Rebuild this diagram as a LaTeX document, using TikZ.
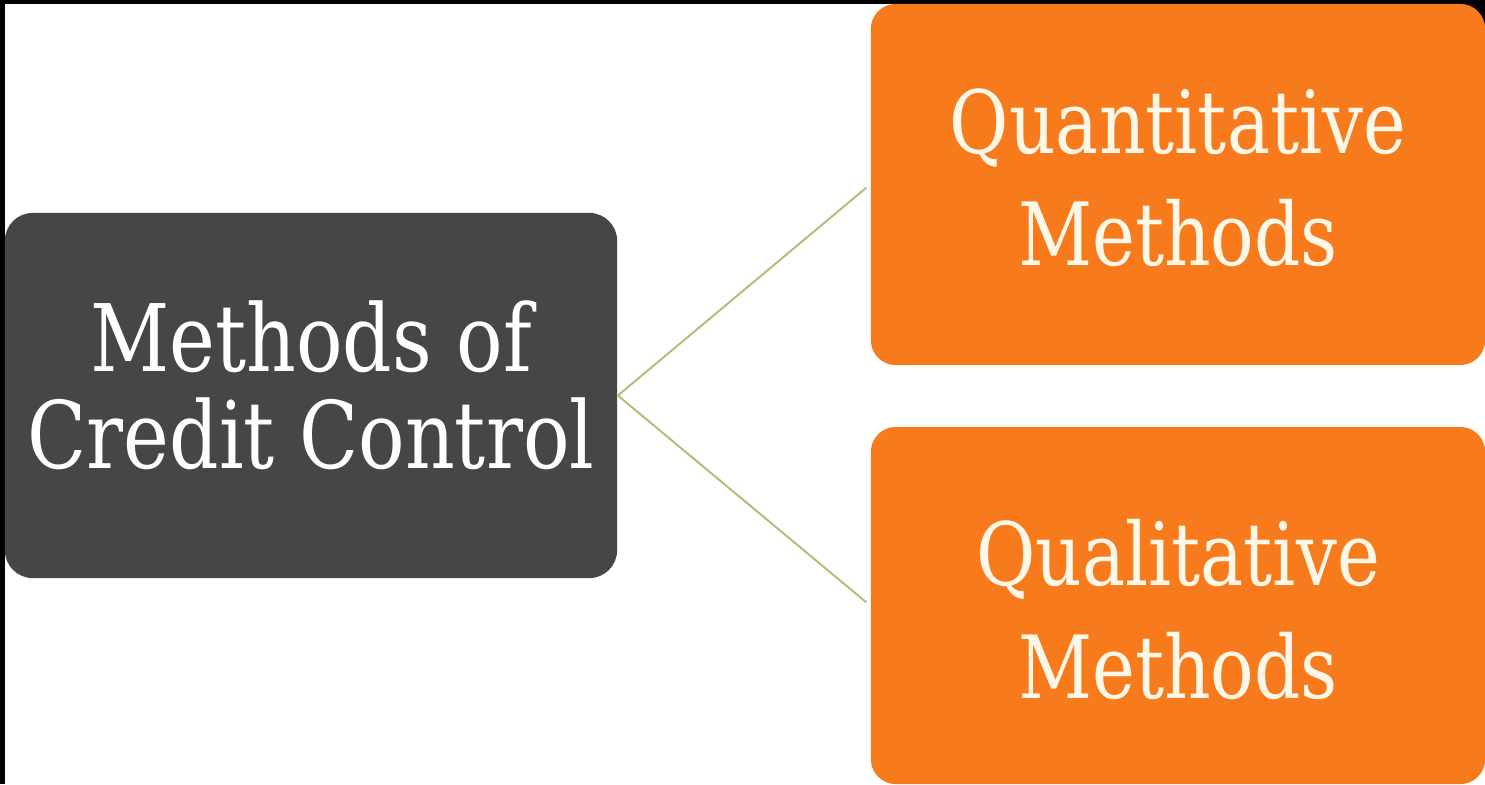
\documentclass[tikz,border=0pt]{standalone}
\usepackage{fontspec}
\newfontfamily\slab[FakeStretch=0.83]{DejaVu Serif}
\definecolor{boxdark}{RGB}{70,70,70}
\definecolor{boxorange}{RGB}{247,123,29}
\definecolor{linkgreen}{RGB}{172,194,122}
\definecolor{cream}{RGB}{255,248,232}
\tikzset{
  rootbox/.style={fill=boxdark, rounded corners=0.28cm, inner sep=0pt,
    minimum width=6.12cm, minimum height=3.65cm},
  leafbox/.style={fill=boxorange, rounded corners=0.25cm, inner sep=0pt,
    minimum width=6.14cm},
  roottext/.style={text=white, align=center, inner sep=0pt,
    font=\slab\fontsize{26.5}{27.6}\selectfont},
  leaftext/.style={text=cream, align=center, inner sep=0pt,
    font=\slab\fontsize{24.8}{31.9}\selectfont},
  link/.style={draw=linkgreen, line width=0.02cm, shorten >=0.05cm}
}
\begin{document}
\begin{tikzpicture}[x=0.01cm, y=-0.01cm]
  \useasboundingbox (0,0) rectangle (1485,784);
  % frame: dark strips on the top and left edges
  \fill[black] (0,0) rectangle (1485,784);
  \fill[white] (5,4) rectangle (1485,784);
  \fill[black] (1455,0) rectangle (1485,30);

  % boxes
  \node[rootbox] (root) at (311,395.5) {};
  \node[leafbox, minimum height=3.61cm] (quant) at (1178,184.5) {};
  \node[leafbox, minimum height=3.57cm] (qual) at (1178,605.5) {};

  % box captions
  \node[roottext] (roottxt) at ([yshift=0.1cm]root.center) {Methods of\\Credit Control};
  \node[leaftext] (quanttxt) at ([yshift=0.07cm]quant.center) {Quantitative\\Methods};
  \node[leaftext] (qualtxt) at ([yshift=-0.04cm]qual.center) {Qualitative\\Methods};

  % connectors
  \draw[link] (root.east) -- (quant.west);
  \draw[link] (root.east) -- (qual.west);
\end{tikzpicture}
\end{document}
